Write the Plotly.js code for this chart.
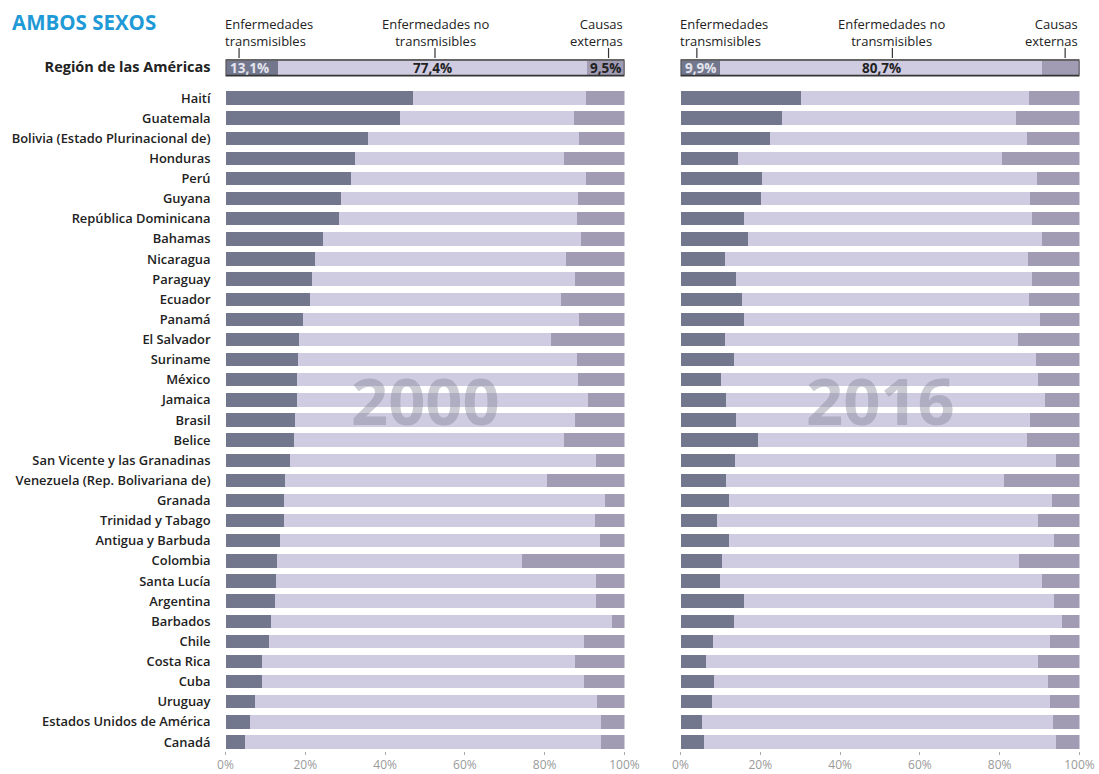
<!DOCTYPE html>
<html>
<head>
<meta charset="utf-8">
<script src="https://cdn.plot.ly/plotly-3.0.1.min.js"></script>
<style>
html,body{margin:0;padding:0;background:#fff;overflow:hidden;}
#chart{width:1099px;height:774px;}
</style>
</head>
<body>
<div id="chart"></div>
<script>
const countries = ["Haití","Guatemala","Bolivia (Estado Plurinacional de)","Honduras","Perú","Guyana","República Dominicana","Bahamas","Nicaragua","Paraguay","Ecuador","Panamá","El Salvador","Suriname","México","Jamaica","Brasil","Belice","San Vicente y las Granadinas","Venezuela (Rep. Bolivariana de)","Granada","Trinidad y Tabago","Antigua y Barbuda","Colombia","Santa Lucía","Argentina","Barbados","Chile","Costa Rica","Cuba","Uruguay","Estados Unidos de América","Canadá"];

const trans2000 = [47.1,43.8,35.6,32.5,31.5,28.9,28.5,24.4,22.4,21.8,21.1,19.5,18.5,18.1,17.8,17.8,17.5,17.2,16.2,14.9,14.6,14.6,13.7,13.0,12.7,12.3,11.3,11.0,9.1,9.1,7.4,6.1,4.8];
const noTrans2000 = [43.2,43.5,53.1,52.3,58.8,59.4,59.5,64.6,63.0,65.9,63.1,69.2,63.0,69.9,70.5,73.1,70.2,67.6,76.7,65.7,80.5,77.9,80.2,61.4,80.2,80.6,85.5,78.9,78.6,80.8,85.8,88.1,89.4];
const ext2000 = [9.7,12.7,11.3,15.2,9.7,11.7,12.0,11.0,14.6,12.3,15.8,11.3,18.5,12.0,11.7,9.1,12.3,15.2,7.1,19.4,4.9,7.5,6.1,25.6,7.1,7.1,3.2,10.1,12.3,10.1,6.8,5.8,5.8];

const trans2016 = [30.3,25.4,22.5,14.4,20.5,20.2,16.0,17.0,11.1,14.0,15.3,16.0,11.1,13.4,10.1,11.5,14.0,19.5,13.7,11.5,12.1,9.2,12.1,10.5,9.8,16.0,13.4,8.1,6.5,8.4,7.8,5.5,5.9];
const noTrans2016 = [57.1,58.8,64.3,66.2,68.9,67.5,72.1,73.7,76.0,74.1,72.1,74.0,73.4,75.7,79.6,79.8,73.7,67.3,80.5,69.5,81.1,80.4,81.5,74.3,80.9,77.6,82.2,84.6,83.2,83.6,84.9,87.8,88.1];
const ext2016 = [12.6,15.8,13.2,19.4,10.6,12.3,11.9,9.3,12.9,11.9,12.6,10.0,15.5,10.9,10.3,8.7,12.3,13.2,5.8,19.0,6.8,10.4,6.4,15.2,9.3,6.4,4.4,7.3,10.3,8.0,7.3,6.7,6.0];

const regionLabel = "Región de las Américas";
const regionTrans = [13.1, 9.9];
const regionNoTrans = [77.4, 80.7];
const regionExt = [9.5, 9.4];

const years = ["2000","2016"];
const groupHeaders = ["Enfermedades<br>transmisibles","Enfermedades no<br>transmisibles","Causas<br>externas"];
const xTickVals = [0,20,40,60,80,100];
const xTickText = ["0%","20%","40%","60%","80%","100%"];
const mainTitle = "AMBOS SEXOS";

const C_T = "#72778e", C_N = "#cfcbe1", C_E = "#a19cb3";
const FONT = "Open Sans";
const REGION_Y = -1.5;
const yIdx = countries.map((c,i)=>i);

const fmt = v => v.toFixed(1).replace(".", ",") + "%";

const data = [];
const sets = [
  [trans2000, noTrans2000, ext2000, "x", "y"],
  [trans2016, noTrans2016, ext2016, "x2", "y2"]
];
sets.forEach((s, k) => {
  const cols = [C_T, C_N, C_E];
  const regs = [regionTrans, regionNoTrans, regionExt];
  for (let j = 0; j < 3; j++) {
    data.push({type:"bar", orientation:"h", x:s[j], y:yIdx, xaxis:s[3], yaxis:s[4],
      width:0.67, marker:{color:cols[j], line:{width:0}}, hoverinfo:"skip", showlegend:false});
    data.push({type:"bar", orientation:"h", x:[regs[j][k]], y:[REGION_Y], xaxis:s[3], yaxis:s[4],
      width:0.72, marker:{color:cols[j], line:{width:0}}, hoverinfo:"skip", showlegend:false});
  }
});

// row pitch ~20.125 px; Haití centred at 98 px, plot area 55..751 px
const TOPPX = 55, BOTPX = 751, PITCH = 20.125, FIRSTPX = 98;
const H = BOTPX - TOPPX;
const yRange = [(BOTPX - FIRSTPX) / PITCH, (TOPPX - FIRSTPX) / PITCH];
const pyPaper = px => (BOTPX - px) / H;

const yax = {
  range: yRange, tickvals: [REGION_Y].concat(yIdx),
  ticktext: ['<b><span style="font-size:14.5px">' + regionLabel + '</span></b>'].concat(countries),
  tickfont: {family: FONT, size: 12.9, color: "#222", weight: 600},
  ticks: "", ticklabelstandoff: 14, showgrid: false, zeroline: false, showline: false
};
const xax = (dom, anchor) => ({
  domain: dom, anchor: anchor, range: [0, 100], tickvals: xTickVals, ticktext: xTickText,
  ticks: "outside", ticklen: 3, tickwidth: 1, tickcolor: "#aaa",
  tickfont: {family: FONT, size: 12, color: "#9a9a9a"},
  showgrid: false, zeroline: false, showline: false
});

const annotations = [];
const shapes = [];
const axes = [["x","y"],["x2","y2"]];
const headerX = [[0, 52.7, 100],[0, 53.0, 100]];
const headerTick = [[3.4, 52.5, 96],[4.1, 53.1, 96.4]];
axes.forEach((a, k) => {
  const xr = a[0];
  const anchors = ["left","center","right"];
  groupHeaders.forEach((h, j) => {
    annotations.push({xref:xr, yref:"paper", x:headerX[k][j], y:pyPaper(32), xanchor:anchors[j], yanchor:"middle",
      text:h, showarrow:false, align:anchors[j], xshift: j===0 ? -3 : 0,
      font:{family:FONT, size:13, color:"#222"}});
    shapes.push({type:"line", xref:xr, yref:"paper", x0:headerTick[k][j], x1:headerTick[k][j],
      y0:pyPaper(48), y1:pyPaper(58), line:{color:"#333", width:1.2}});
  });
  const tot = regionTrans[k] + regionNoTrans[k] + regionExt[k];
  shapes.push({type:"rect", xref:xr, yref:a[1], x0:0, x1:tot, y0:REGION_Y-0.39, y1:REGION_Y+0.39,
    line:{color:"#333", width:1.6}, fillcolor:"rgba(0,0,0,0)", layer:"above"});
  annotations.push({xref:xr, yref:a[1], x:0, y:REGION_Y, xanchor:"left", yanchor:"middle", xshift:2,
    text:"<b>"+fmt(regionTrans[k])+"</b>", showarrow:false, font:{family:FONT, size:13.5, color:"#e4e4ec"}});
  annotations.push({xref:xr, yref:a[1], x:regionTrans[k] + regionNoTrans[k]/2, y:REGION_Y, xanchor:"center", yanchor:"middle",
    text:"<b>"+fmt(regionNoTrans[k])+"</b>", showarrow:false, font:{family:FONT, size:13.5, color:"#222"}});
  annotations.push({xref:xr, yref:a[1], x:tot, y:REGION_Y, xanchor:"right", yanchor:"middle", xshift:-2,
    text:"<b>"+fmt(regionExt[k])+"</b>", showarrow:false, font:{family:FONT, size:13.5, color:"#222"}});
  annotations.push({xref:xr, yref:a[1], x:50, y:yIdx[15], xanchor:"center", yanchor:"middle",
    text:"<b>"+years[k]+"</b>", showarrow:false, font:{family:FONT, size:65, color:"rgba(130,130,150,0.42)"}});
});
annotations.push({xref:"paper", yref:"paper", x:10/1099, y:pyPaper(22), xanchor:"left", yanchor:"middle",
  text:"<b>"+mainTitle+"</b>", showarrow:false, font:{family:FONT, size:20.5, color:"#1f9ad6"}});

const layout = {
  width:1099, height:774, margin:{l:0, r:0, t:TOPPX, b:774-BOTPX},
  paper_bgcolor:"#fff", plot_bgcolor:"#fff", barmode:"stack", bargap:0,
  xaxis: xax([225.5/1099, 624.5/1099], "y"),
  xaxis2: xax([680.5/1099, 1079.5/1099], "y2"),
  yaxis: Object.assign({anchor:"x"}, yax),
  yaxis2: Object.assign({anchor:"x2"}, yax, {showticklabels:false}),
  annotations: annotations, shapes: shapes, showlegend:false
};
Plotly.newPlot("chart", data, layout, {staticPlot:true, displayModeBar:false});
</script>
</body>
</html>
